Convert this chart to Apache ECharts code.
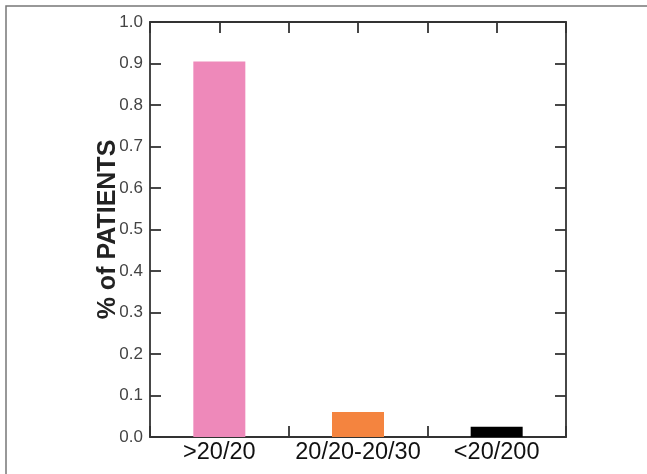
<!DOCTYPE html>
<html>
<head>
<meta charset="utf-8">
<script src="https://cdn.jsdelivr.net/npm/echarts@6/dist/echarts.min.js"></script>
<style>
  html, body { margin: 0; padding: 0; background: #fff; }
  #chart { width: 647px; height: 474px; }
</style>
</head>
<body>
<div id="chart"></div>
<script>
const categories = ['>20/20', '20/20-20/30', '<20/200'];
const values = [0.905, 0.06, 0.025];
const barColors = ['#EE89BA', '#F4843F', '#000000'];
const yTicks = [0, 0.1, 0.2, 0.3, 0.4, 0.5, 0.6, 0.7, 0.8, 0.9, 1.0];

const chart = echarts.init(document.getElementById('chart'), null, { renderer: 'canvas' });
const mkLine = () => ({ show: true, onZero: false, lineStyle: { color: '#333', width: 1.8 } });
const mkTick = () => ({ show: true, inside: true, length: 11, lineStyle: { color: '#333', width: 1.8 } });
const FONT = 'Liberation Sans, Arial, sans-serif';

chart.setOption({
  backgroundColor: '#fff',
  animation: false,
  graphic: [{
    type: 'rect',
    shape: { x: 6, y: 6, width: 660, height: 500 },
    style: { fill: 'none', stroke: '#777', lineWidth: 1.5 },
    silent: true
  }],
  grid: { left: 150, right: 81, top: 22, bottom: 37 },
  xAxis: [{
    type: 'category',
    data: categories,
    position: 'bottom',
    axisLine: mkLine(),
    axisTick: mkTick(),
    axisLabel: { color: '#111', fontSize: 23.5, fontFamily: FONT, margin: 4, interval: 0, hideOverlap: false },
    splitLine: { show: false }
  }, {
    type: 'value',
    position: 'top',
    min: 0, max: 3, interval: 0.5,
    axisLine: mkLine(),
    axisTick: mkTick(),
    axisLabel: { show: false },
    splitLine: { show: false }
  }],
  yAxis: [{
    type: 'value',
    min: 0, max: 1, interval: 0.1,
    position: 'left',
    name: '% of PATIENTS',
    nameLocation: 'middle',
    nameGap: 29,
    nameMoveOverlap: false,
    nameTextStyle: { color: '#222', fontSize: 25, fontWeight: 'bold', fontFamily: FONT },
    axisLine: mkLine(),
    axisTick: mkTick(),
    axisLabel: {
      color: '#444', fontSize: 17, fontFamily: FONT, margin: 7,
      formatter: v => yTicks.includes(Math.round(v * 10) / 10) ? v.toFixed(1) : ''
    },
    splitLine: { show: false }
  }, {
    type: 'value',
    min: 0, max: 1, interval: 0.1,
    position: 'right',
    axisLine: mkLine(),
    axisTick: mkTick(),
    axisLabel: { show: false },
    splitLine: { show: false }
  }],
  series: [{
    type: 'bar',
    xAxisIndex: 0,
    yAxisIndex: 0,
    barWidth: 52,
    data: values.map((v, i) => ({ value: v, itemStyle: { color: barColors[i] } }))
  }]
});
</script>
</body>
</html>
